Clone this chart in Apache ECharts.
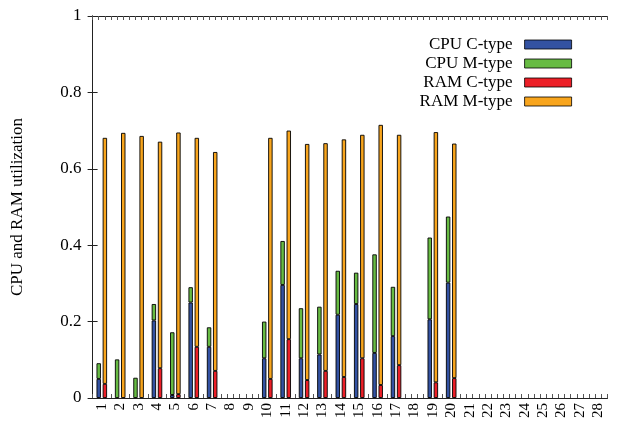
<!DOCTYPE html>
<html>
<head>
<meta charset="utf-8">
<script src="https://cdn.jsdelivr.net/npm/echarts@6/dist/echarts.min.js"></script>
<style>html,body{margin:0;padding:0;background:#fff}#c{width:620px;height:426px}</style>
</head>
<body>
<div id="c"></div>
<script>
var categories = ['1','2','3','4','5','6','7','8','9','10','11','12','13','14','15','16','17','18','19','20','21','22','23','24','25','26','27','28'];
var cpuC = [0.050,0,0,0.203,0.008,0.250,0.134,0,0,0.104,0.296,0.104,0.114,0.218,0.246,0.118,0.162,0,0.206,0.302,0,0,0,0,0,0,0,0];
var cpuM = [0.041,0.101,0.053,0.043,0.164,0.040,0.051,0,0,0.096,0.115,0.131,0.125,0.115,0.082,0.258,0.129,0,0.214,0.173,0,0,0,0,0,0,0,0];
var ramC = [0.037,0,0,0.078,0.010,0.134,0.071,0,0,0.050,0.154,0.047,0.071,0.055,0.104,0.034,0.086,0,0.041,0.052,0,0,0,0,0,0,0,0];
var ramM = [0.644,0.694,0.686,0.593,0.685,0.547,0.573,0,0,0.631,0.546,0.618,0.596,0.622,0.585,0.681,0.603,0,0.655,0.614,0,0,0,0,0,0,0,0];
var yTicks = [0, 0.2, 0.4, 0.6, 0.8, 1];

var FONT = 'Liberation Serif';
var AX = '#222';
function nz(a){ return a.map(function(v){ return v === 0 ? null : v; }); }
var chart = echarts.init(document.getElementById('c'), null, {renderer:'canvas'});
var slots = categories.length * 3;
function bar(name, stack, data, color){
  return {name:name, type:'bar', stack:stack, data:nz(data), xAxisIndex:0, yAxisIndex:0,
    barWidth:4.4, barGap:'40%',
    itemStyle:{color:color, borderColor:'#000', borderWidth:0.9},
    emphasis:{disabled:true}, animation:false};
}
chart.setOption({
  animation:false,
  grid:{left:92.6, right:12.5, top:16, bottom:28, containLabel:false},
  legend:{
    data:['CPU C-type','CPU M-type','RAM C-type','RAM M-type'],
    orient:'vertical', right:48, top:36, align:'right', padding:0, icon:'rect',
    itemWidth:47, itemHeight:9, itemGap:2,
    itemStyle:{borderWidth:0.8, borderColor:'#000'},
    textStyle:{fontFamily:FONT, fontSize:17, color:'#000', lineHeight:17, padding:[0,7,0,0]}
  },
  xAxis:[
    {type:'category', data:categories, position:'bottom',
     axisLine:{show:true, lineStyle:{color:AX, width:1}}, axisTick:{show:false},
     axisLabel:{rotate:90, interval:0, fontFamily:FONT, fontSize:15, color:'#000', margin:5}},
    {type:'value', min:0, max:slots, interval:1, position:'bottom',
     axisLine:{show:false}, axisLabel:{show:false}, splitLine:{show:false},
     axisTick:{show:true, inside:true, length:4, lineStyle:{color:'#555'}}},
    {type:'value', min:0, max:slots, interval:1, position:'top',
     axisLine:{show:true, lineStyle:{color:AX}}, axisLabel:{show:false}, splitLine:{show:false},
     axisTick:{show:true, inside:true, length:4, lineStyle:{color:'#555'}}}
  ],
  yAxis:[
    {type:'value', min:yTicks[0], max:yTicks[yTicks.length-1], interval:0.2, position:'left',
     name:'CPU and RAM utilization', nameLocation:'middle', nameGap:67,
     nameTextStyle:{fontFamily:FONT, fontSize:17, color:'#000'},
     axisLine:{show:true, lineStyle:{color:AX}}, splitLine:{show:false},
     axisTick:{show:true, inside:true, length:5, lineStyle:{color:AX}},
     axisLabel:{fontFamily:FONT, fontSize:17, color:'#000', margin:11}},
    {type:'value', min:0, max:1, interval:0.2, position:'right',
     axisLine:{show:true, lineStyle:{color:AX}}, splitLine:{show:false},
     axisTick:{show:true, inside:true, length:5, lineStyle:{color:AX}},
     axisLabel:{show:false}}
  ],
  series:[
    bar('CPU C-type','cpu',cpuC,'#3352a2'),
    bar('CPU M-type','cpu',cpuM,'#67bb43'),
    bar('RAM C-type','ram',ramC,'#ec1f27'),
    bar('RAM M-type','ram',ramM,'#f8a51d')
  ]
});
</script>
</body>
</html>
